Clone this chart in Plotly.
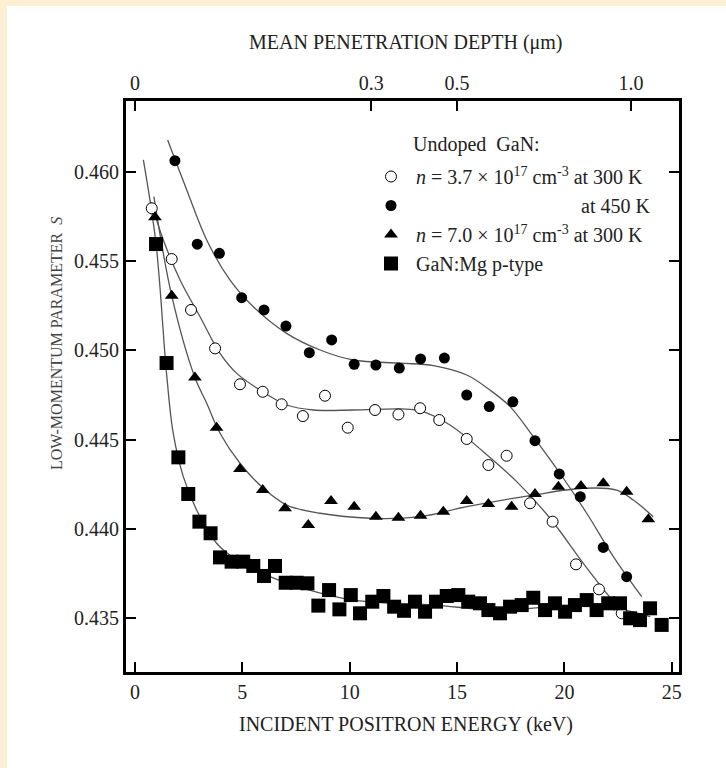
import plotly.graph_objects as go

# ---------------- data ----------------
# Undoped GaN, n = 3.7e17 cm^-3, 300 K (open circles)
E_n37_300K = [0.78, 1.71, 2.61, 3.73, 4.89, 5.95, 6.83, 7.82, 8.85, 9.91, 11.18,
              12.27, 13.28, 14.17, 15.45, 16.46, 17.31, 18.40, 19.45, 20.54, 21.61, 22.67]
S_n37_300K = [0.45795, 0.45511, 0.45226, 0.45011, 0.44810, 0.44768, 0.44698, 0.44632,
              0.44746, 0.44567, 0.44666, 0.44641, 0.44676, 0.44610, 0.44504, 0.44358,
              0.44410, 0.44144, 0.44041, 0.43802, 0.43662, 0.43528]

# Undoped GaN, n = 3.7e17 cm^-3, 450 K (filled circles)
E_n37_450K = [1.86, 2.90, 3.93, 4.97, 6.01, 7.03, 8.12, 9.16, 10.21, 11.22, 12.31,
              13.30, 14.41, 15.45, 16.50, 17.60, 18.63, 19.76, 20.74, 21.81, 22.90]
S_n37_450K = [0.46062, 0.45594, 0.45543, 0.45295, 0.45226, 0.45136, 0.44987, 0.45058,
              0.44922, 0.44918, 0.44901, 0.44952, 0.44957, 0.44750, 0.44685, 0.44712,
              0.44494, 0.44308, 0.44181, 0.43897, 0.43733]

# Undoped GaN, n = 7.0e17 cm^-3, 300 K (triangles)
E_n70_300K = [0.93, 1.71, 2.79, 3.80, 4.89, 5.95, 6.99, 8.07, 9.13, 10.21, 11.22, 12.27,
              13.30, 14.36, 15.45, 16.46, 17.54, 18.63, 19.72, 20.77, 21.81, 22.90, 23.91]
S_n70_300K = [0.45745, 0.45306, 0.44848, 0.44567, 0.44336, 0.44218, 0.44116, 0.44022,
              0.44157, 0.44125, 0.44069, 0.44063, 0.44074, 0.44097, 0.44157, 0.44140,
              0.44125, 0.44196, 0.44237, 0.44241, 0.44256, 0.44209, 0.44054]

# GaN:Mg p-type (squares)
E_mg = [0.98, 1.47, 2.02, 2.48, 3.00, 3.52, 3.96, 4.50, 5.04, 5.51, 6.01, 6.52, 7.02,
        7.53, 8.03, 8.54, 9.04, 9.52, 10.05, 10.48, 11.05, 11.57, 12.07, 12.53, 13.04,
        13.51, 14.02, 14.52, 15.06, 15.52, 16.07, 16.46, 17.00, 17.47, 18.01, 18.55,
        19.10, 19.56, 20.03, 20.49, 21.04, 21.50, 22.04, 22.59, 23.06, 23.52, 23.99, 24.53]
S_mg = [0.45595, 0.44929, 0.44401, 0.44196, 0.44041, 0.43976, 0.43841, 0.43817, 0.43817,
        0.43793, 0.43737, 0.43793, 0.43699, 0.43699, 0.43696, 0.43571, 0.43658, 0.43550,
        0.43630, 0.43528, 0.43593, 0.43625, 0.43565, 0.43542, 0.43593, 0.43537, 0.43593,
        0.43625, 0.43630, 0.43593, 0.43584, 0.43546, 0.43528, 0.43565, 0.43574, 0.43615,
        0.43546, 0.43584, 0.43537, 0.43574, 0.43602, 0.43546, 0.43584, 0.43584, 0.43500,
        0.43490, 0.43556, 0.43463]

# fitted curves
fitE_n37_300K = [0.75, 1.32, 2.10, 3.03, 3.96, 4.74, 5.82, 7.07, 8.30, 10.17, 12.40,
                 13.27, 14.67, 16.22, 17.78, 19.33, 20.88, 21.97, 22.90]
fitS_n37_300K = [0.45830, 0.45618, 0.45394, 0.45188, 0.44983, 0.44871, 0.44778, 0.44694,
                 0.44666, 0.44666, 0.44672, 0.44662, 0.44582, 0.44433, 0.44265, 0.44060,
                 0.43808, 0.43640, 0.43509]
fitE_n37_450K = [1.52, 2.41, 3.34, 4.42, 5.51, 7.06, 8.62, 10.17, 12.34, 13.90, 15.45,
                 16.53, 17.47, 18.55, 19.79, 21.04, 22.28, 23.60]
fitS_n37_450K = [0.46177, 0.45898, 0.45618, 0.45394, 0.45244, 0.45095, 0.45002, 0.44946,
                 0.44928, 0.44915, 0.44862, 0.44778, 0.44685, 0.44517, 0.44312, 0.44088,
                 0.43845, 0.43621]
fitE_n70_300K = [0.88, 1.71, 2.79, 3.34, 3.96, 4.89, 5.98, 7.06, 8.62, 10.95, 13.27,
                 15.45, 18.55, 20.88, 22.43, 23.21, 24.14]
fitS_n70_300K = [0.45860, 0.45306, 0.44848, 0.44704, 0.44536, 0.44368, 0.44228, 0.44134,
                 0.44088, 0.44060, 0.44069, 0.44125, 0.44190, 0.44228, 0.44218, 0.44162,
                 0.44069]
fitE_mg = [0.39, 0.98, 1.47, 1.78, 2.25, 2.87, 3.80, 4.74, 6.29, 7.84, 10.17, 13.90,
           17.00, 20.10, 22.40, 24.00]
fitS_mg = [0.46066, 0.45595, 0.44870, 0.44536, 0.44293, 0.44106, 0.43920, 0.43826,
           0.43733, 0.43668, 0.43602, 0.43574, 0.43546, 0.43569, 0.43556, 0.43509]

x_ticks = [0, 5, 10, 15, 20, 25]
x_tick_labels = ["0", "5", "10", "15", "20", "25"]
y_ticks = [0.435, 0.440, 0.445, 0.450, 0.455, 0.460]
y_tick_labels = ["0.435", "0.440", "0.445", "0.450", "0.455", "0.460"]
depth_labels = ["0", "0.3", "0.5", "1.0"]
depth_tick_energy = [0.0, 11.0, 15.0, 23.1]   # keV positions of depth ticks

legend_names = [
    "\u00a0<i>n</i> = 3.7 \u00d7 10<sup>17</sup> cm<sup>-3</sup> at 300 K",
    "\u00a0" + "\u00a0" * 33 + "at 450 K",
    "\u00a0<i>n</i> = 7.0 \u00d7 10<sup>17</sup> cm<sup>-3</sup> at 300 K",
    "\u00a0GaN:Mg p-type",
]

# ---------------- layout geometry ----------------
W, H = 726, 768
L, R, T, B = 126, 47, 101, 96
PW, PH = W - L - R, H - T - B
x_range = [-0.419, 25.338]
y_range = [0.431994, 0.463958]
FONT = "Liberation Serif, Times New Roman, serif"
BEIGE = "#FCEFD4"


def px(xp):
    return (xp - L) / PW


def py(yp):
    return (H - B - yp) / PH


fig = go.Figure()

fit_style = dict(color="#555555", width=1.3, shape="spline", smoothing=1.0)
for fe, fs in [(fitE_n37_300K, fitS_n37_300K), (fitE_n37_450K, fitS_n37_450K),
               (fitE_n70_300K, fitS_n70_300K), (fitE_mg, fitS_mg)]:
    fig.add_trace(go.Scatter(x=fe, y=fs, mode="lines", line=fit_style,
                             showlegend=False, hoverinfo="skip"))

fig.add_trace(go.Scatter(x=E_n37_300K, y=S_n37_300K, mode="markers", name=legend_names[0],
                         marker=dict(symbol="circle", size=11, color="white",
                                     line=dict(color="black", width=1))))
fig.add_trace(go.Scatter(x=E_n37_450K, y=S_n37_450K, mode="markers", name=legend_names[1],
                         marker=dict(symbol="circle", size=11, color="black",
                                     line=dict(width=0))))
fig.add_trace(go.Scatter(x=E_n70_300K, y=S_n70_300K, mode="markers", name=legend_names[2],
                         marker=dict(symbol="triangle-up", size=12, color="black",
                                     line=dict(width=0))))
fig.add_trace(go.Scatter(x=E_mg, y=S_mg, mode="markers", name=legend_names[3],
                         marker=dict(symbol="square", size=14, color="black",
                                     line=dict(width=0))))
# invisible trace to activate the top (depth) axis
fig.add_trace(go.Scatter(x=depth_tick_energy, y=[None] * len(depth_tick_energy),
                         xaxis="x2", mode="markers", showlegend=False, hoverinfo="skip"))

axis_common = dict(showgrid=False, zeroline=False, showline=True, linewidth=3,
                   linecolor="black", ticks="inside", ticklen=10, tickwidth=2,
                   tickcolor="black", tickfont=dict(family=FONT, size=20, color="#222"))

fig.update_layout(
    width=W, height=H,
    margin=dict(l=L, r=R, t=T, b=B, pad=0),
    paper_bgcolor=BEIGE, plot_bgcolor="white",
    font=dict(family=FONT, size=20, color="#222"),
    xaxis=dict(range=x_range, tickvals=x_ticks, ticktext=x_tick_labels, **axis_common),
    xaxis2=dict(range=x_range, overlaying="x", side="top", anchor="y",
                tickvals=depth_tick_energy, ticktext=depth_labels, **axis_common),
    yaxis=dict(range=y_range, tickvals=y_ticks, ticktext=y_tick_labels,
               mirror="ticks", **axis_common),
    showlegend=True,
    legend=dict(x=px(371), y=py(157), xanchor="left", yanchor="top",
                bgcolor="rgba(0,0,0,0)", borderwidth=0,
                font=dict(family=FONT, size=20, color="#222"),
                itemclick=False, itemdoubleclick=False, tracegroupgap=0),
    shapes=[dict(type="rect", xref="paper", yref="paper",
                 x0=px(7), x1=1.5, y0=-0.5, y1=py(6),
                 fillcolor="white", line=dict(width=0), layer="below")],
    annotations=[
        dict(text="MEAN PENETRATION DEPTH (\u03bcm)", xref="paper", yref="paper",
             x=px(405.5), y=py(42.7), xanchor="center", yanchor="middle",
             showarrow=False, font=dict(family=FONT, size=20, color="#222")),
        dict(text="INCIDENT POSITRON ENERGY (keV)", xref="paper", yref="paper",
             x=px(406), y=py(724), xanchor="center", yanchor="middle",
             showarrow=False, font=dict(family=FONT, size=20, color="#222")),
        dict(text="LOW-MOMENTUM PARAMETER\u00a0\u00a0<i>S</i>", xref="paper", yref="paper",
             x=px(56), y=py(344), xanchor="center", yanchor="middle", textangle=-90,
             showarrow=False, font=dict(family=FONT, size=16, color="#444")),
        dict(text="Undoped\u00a0\u00a0GaN:", xref="paper", yref="paper",
             x=px(410.7), y=py(144), xanchor="left", yanchor="middle",
             showarrow=False, font=dict(family=FONT, size=20, color="#222")),
    ],
)

fig.write_html("out.html")
